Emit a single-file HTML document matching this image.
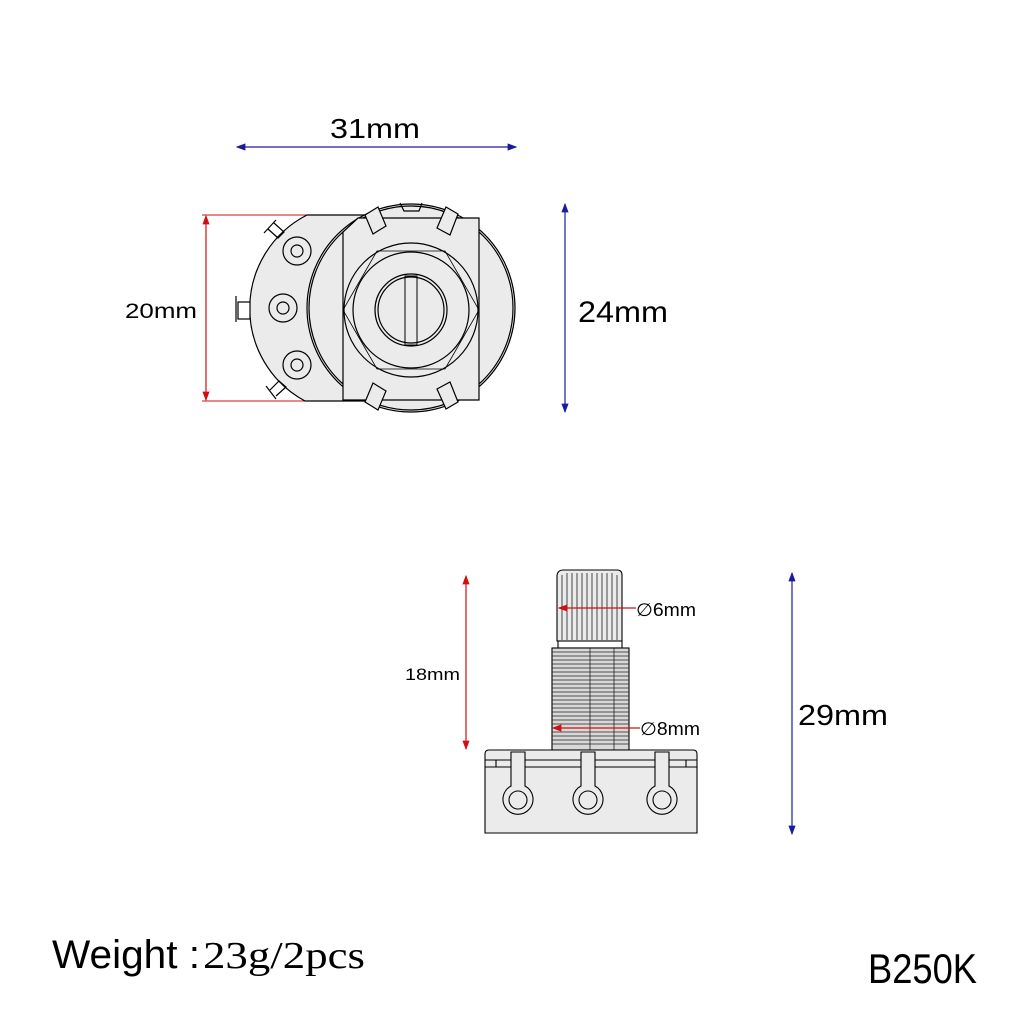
<!DOCTYPE html>
<html><head><meta charset="utf-8"><style>
html,body{margin:0;padding:0;background:#fff;}
svg{display:block;}
text{font-family:"Liberation Sans",sans-serif;fill:#000;}
</style></head><body>
<svg width="1024" height="1024" viewBox="0 0 1024 1024" xmlns="http://www.w3.org/2000/svg">
<defs>
<marker id="ab" markerWidth="8" markerHeight="6" refX="7" refY="3" orient="auto-start-reverse"><path d="M0,0 L8,3 L0,6 z" fill="#1a1aa0"/></marker>
<marker id="ar" markerWidth="8" markerHeight="6" refX="7" refY="3" orient="auto-start-reverse"><path d="M0,0 L8,3 L0,6 z" fill="#d01010"/></marker>
</defs>

<line x1="237" y1="147" x2="516" y2="147" stroke="#1a1aa0" stroke-width="1.2" marker-start="url(#ab)" marker-end="url(#ab)"/>
<text x="330" y="138" font-size="28" textLength="90" lengthAdjust="spacingAndGlyphs">31mm</text>
<line x1="565" y1="204" x2="565" y2="412" stroke="#1a1aa0" stroke-width="1.2" marker-start="url(#ab)" marker-end="url(#ab)"/>
<text x="578" y="322" font-size="30" textLength="90" lengthAdjust="spacingAndGlyphs">24mm</text>
<line x1="202" y1="215" x2="307" y2="215" stroke="#d01010" stroke-width="1"/>
<line x1="202" y1="401" x2="307" y2="401" stroke="#d01010" stroke-width="1"/>
<line x1="206" y1="216" x2="206" y2="400" stroke="#d01010" stroke-width="1.2" marker-start="url(#ar)" marker-end="url(#ar)"/>
<text x="125" y="318" font-size="21" textLength="72" lengthAdjust="spacingAndGlyphs">20mm</text>

<g stroke="#000" stroke-width="1.2" fill="#ebebeb">
<path d="M307,215 L372,215 L372,401 L305,401 A105,105 0 0 1 307,215 Z"/>
<circle cx="411" cy="308" r="104"/>
<circle cx="411" cy="308" r="102" fill="none"/>
<path d="M343,232 L358,218 L479,218 L479,400 L343,400 Z"/>
<path d="M400,203 L404,211 L419,211 L422,203" fill="none"/>
<path d="M365,215 L378,207 L386,226 L373,234 Z"/>
<path d="M446,207 L458,214 L450,235 L437,228 Z"/>
<path d="M373,383 L386,391 L378,410 L365,402 Z"/>
<path d="M437,389 L450,382 L458,402 L446,409 Z"/>
<circle cx="411" cy="310" r="67"/>
<polygon points="343,310 377,251 445,251 479,310 445,369 377,369" fill="none" stroke-width="0.8"/>
<circle cx="411" cy="310" r="58"/>
<circle cx="411" cy="310" r="36"/>
<circle cx="411" cy="310" r="33" fill="none"/>
<rect x="405" y="276" width="12" height="69" fill="none" stroke-width="1"/>
<circle cx="297" cy="251" r="14"/><circle cx="297" cy="251" r="6"/>
<circle cx="283" cy="308" r="14"/><circle cx="283" cy="308" r="6"/>
<circle cx="297" cy="365" r="14"/><circle cx="297" cy="365" r="6"/>
<path d="M264,233 L276,220 M268,229 L278,238 L284,232 L274,223" fill="none"/>
<rect x="238" y="302" width="12" height="17" fill="#fff"/>
<line x1="236" y1="296" x2="236" y2="322"/>
<path d="M266,386 L276,399 M270,390 L279,381 L286,387 L276,396" fill="none"/>
</g>

<line x1="466" y1="576" x2="466" y2="749" stroke="#d01010" stroke-width="1.2" marker-start="url(#ar)" marker-end="url(#ar)"/>
<text x="405" y="680" font-size="17" textLength="55" lengthAdjust="spacingAndGlyphs">18mm</text>
<line x1="792" y1="573" x2="792" y2="834" stroke="#1a1aa0" stroke-width="1.2" marker-start="url(#ab)" marker-end="url(#ab)"/>
<text x="798" y="725" font-size="29" textLength="90" lengthAdjust="spacingAndGlyphs">29mm</text>

<g stroke="#000" stroke-width="1.1" fill="#ebebeb">
<path d="M557,641 L557,575 Q558,570 563,570 L617,570 Q622,570 622,575 L622,641 Z"/>
<g stroke-width="0.7">
<line x1="562" y1="575" x2="562" y2="640"/><line x1="567" y1="573" x2="567" y2="640"/><line x1="572" y1="573" x2="572" y2="640"/><line x1="577" y1="573" x2="577" y2="640"/><line x1="582" y1="573" x2="582" y2="640"/><line x1="587" y1="573" x2="587" y2="640"/><line x1="592" y1="573" x2="592" y2="640"/><line x1="597" y1="573" x2="597" y2="640"/><line x1="602" y1="573" x2="602" y2="640"/><line x1="607" y1="573" x2="607" y2="640"/><line x1="612" y1="573" x2="612" y2="640"/><line x1="617" y1="575" x2="617" y2="640"/>
</g>
<rect x="558" y="641" width="64" height="7" fill="#fff"/>
<rect x="552" y="648" width="77" height="102" fill="#d8d8d8"/>
<g stroke-width="0.8" stroke="#222">
<line x1="552" y1="652" x2="629" y2="652"/><line x1="552" y1="656" x2="629" y2="656"/><line x1="552" y1="660" x2="629" y2="660"/><line x1="552" y1="664" x2="629" y2="664"/><line x1="552" y1="668" x2="629" y2="668"/><line x1="552" y1="672" x2="629" y2="672"/><line x1="552" y1="676" x2="629" y2="676"/><line x1="552" y1="680" x2="629" y2="680"/><line x1="552" y1="684" x2="629" y2="684"/><line x1="552" y1="688" x2="629" y2="688"/><line x1="552" y1="692" x2="629" y2="692"/><line x1="552" y1="696" x2="629" y2="696"/><line x1="552" y1="700" x2="629" y2="700"/><line x1="552" y1="704" x2="629" y2="704"/><line x1="552" y1="708" x2="629" y2="708"/><line x1="552" y1="712" x2="629" y2="712"/><line x1="552" y1="716" x2="629" y2="716"/><line x1="552" y1="720" x2="629" y2="720"/><line x1="552" y1="724" x2="629" y2="724"/><line x1="552" y1="728" x2="629" y2="728"/><line x1="552" y1="732" x2="629" y2="732"/><line x1="552" y1="736" x2="629" y2="736"/><line x1="552" y1="740" x2="629" y2="740"/><line x1="552" y1="744" x2="629" y2="744"/>
<line x1="590" y1="648" x2="590" y2="750"/><line x1="614" y1="648" x2="614" y2="750"/>
</g>
<path d="M485,833 L485,754 Q485,750 489,750 L693,750 Q697,750 697,754 L697,833 Z"/>
<line x1="485" y1="760" x2="697" y2="760"/>
<line x1="485" y1="767" x2="697" y2="767"/>
<line x1="496" y1="760" x2="496" y2="767"/><line x1="686" y1="760" x2="686" y2="767"/>
<path d="M511,752 L525,752 L525,786 A15,15 0 1 1 511,786 Z"/>
<circle cx="518" cy="800" r="9"/>
<path d="M581,752 L595,752 L595,786 A15,15 0 1 1 581,786 Z"/>
<circle cx="588" cy="800" r="9"/>
<path d="M655,752 L669,752 L669,786 A15,15 0 1 1 655,786 Z"/>
<circle cx="662" cy="800" r="9"/>
</g>
<line x1="559" y1="608" x2="636" y2="608" stroke="#d01010" stroke-width="1.2" marker-start="url(#ar)"/>
<text x="636" y="616" font-size="18" textLength="60" lengthAdjust="spacingAndGlyphs">∅6mm</text>
<line x1="553" y1="728" x2="640" y2="728" stroke="#d01010" stroke-width="1.2" marker-start="url(#ar)"/>
<text x="640" y="735" font-size="18" textLength="60" lengthAdjust="spacingAndGlyphs">∅8mm</text>

<text x="52" y="968" font-size="40" textLength="148" lengthAdjust="spacingAndGlyphs">Weight :</text>
<text x="203" y="968" font-size="38" font-family="Liberation Serif, serif" textLength="162" lengthAdjust="spacingAndGlyphs" style="font-family:'Liberation Serif',serif">23g/2pcs</text>
<text x="868" y="983" font-size="42" textLength="109" lengthAdjust="spacingAndGlyphs">B250K</text>
</svg>
</body></html>
